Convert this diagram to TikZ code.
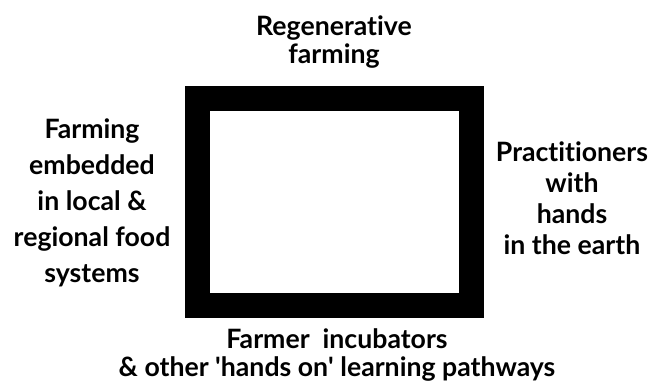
\documentclass[tikz,border=0pt]{standalone}
\usepackage{fontspec}
\setmainfont[Ligatures={NoCommon}]{Lato}
\usetikzlibrary{positioning}

\tikzset{
    label text/.style={font=\bfseries\fontsize{20}{21}\selectfont, align=center, inner sep=0pt},
    frame box/.style={draw=black, line width=18.75pt, inner sep=0pt,
        minimum width=205.5pt, minimum height=155.25pt}
}

\begin{document}
\begin{tikzpicture}[x=0.75pt, y=-0.75pt]

\useasboundingbox (0,0) rectangle (670,392);

% Thick square frame
\node[frame box] (frame) at (334.5,202) {};

% Labels round the frame
\node[label text] (regen) at (334,42) {Regenerative\\farming};
\node[label text, font=\bfseries\fontsize{20}{27}\selectfont] (local) at (92,203)
    {Farming\\embedded\\in local \&\\regional food\\systems};
\node[label text, font=\bfseries\fontsize{20}{23.25}\selectfont] (hands) at (572,198)
    {Practitioners\\with\\hands\\in the earth};
\node[label text] (incub) at (337,355)
    {Farmer\ \ incubators\\\& other \textquotesingle hands on\textquotesingle\ learning pathways};

\end{tikzpicture}
\end{document}
